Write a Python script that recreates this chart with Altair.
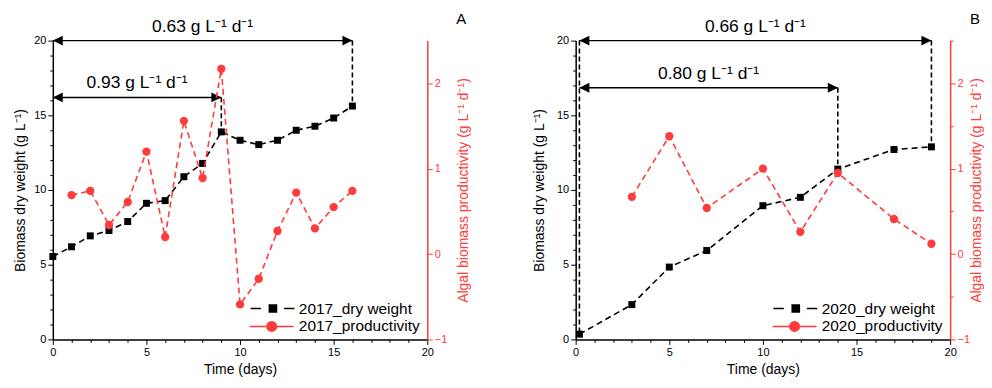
import altair as alt
import pandas as pd

RED = "#ff3b3b"
FONT = "Liberation Sans"

# ---------------- Panel A (2017) ----------------
days_a = list(range(0, 17))
dw_a = [5.55, 6.2, 6.93, 7.29, 7.89, 9.11, 9.29, 10.89, 11.78, 13.89, 13.33, 13.04, 13.33, 14.0, 14.27, 14.82, 15.62]
prod_days_a = list(range(1, 17))
prod_a = [0.69, 0.74, 0.34, 0.61, 1.2, 0.2, 1.56, 0.89, 2.17, -0.59, -0.29, 0.27, 0.72, 0.3, 0.55, 0.74]

arrow_level_a = [20, 16.2]
arrow_start_a = [0, 0]
arrow_end_a = [16, 9]
arrow_text_a = ["0.63 g L\u207b\u00b9 d\u207b\u00b9", "0.93 g L\u207b\u00b9 d\u207b\u00b9"]
drop_x_a = [16, 9]
drop_top_a = [20, 16.2]
drop_bottom_a = [15.62, 13.89]

# ---------------- Panel B (2020) ----------------
days_b = [0.2, 3, 5, 7, 10, 12, 14, 17, 19]
dw_b = [0.35, 2.33, 4.84, 5.95, 8.95, 9.51, 11.4, 12.71, 12.89]
prod_days_b = [3, 5, 7, 10, 12, 14, 17, 19]
prod_b = [0.67, 1.38, 0.54, 1.0, 0.26, 0.95, 0.41, 0.12]

arrow_level_b = [20, 16.85]
arrow_start_b = [0.2, 0.2]
arrow_end_b = [19, 14]
arrow_text_b = ["0.66 g L\u207b\u00b9 d\u207b\u00b9", "0.80  g L\u207b\u00b9 d\u207b\u00b9"]
drop_x_b = [19, 14, 0.2]
drop_top_b = [20, 16.85, 20]
drop_bottom_b = [12.89, 11.4, 0.35]

x_ticks = list(range(0, 21))
y_ticks = list(range(0, 21))

W, H = 376, 300

TRI_LEFT = "M0,0L2,-1L2,1Z"
TRI_RIGHT = "M0,0L-2,-1L-2,1Z"
SYM_SQUARE = "M-2.8,0H-1.5M-0.45,-0.45H0.45V0.45H-0.45ZM1.4,0H2.7"
SYM_CIRCLE = "M-2.9,0H-0.75M0.45,0A0.6,0.6 0 1,1 -0.75,0A0.6,0.6 0 1,1 0.45,0ZM0.45,0H2.6"


def panel(tag, tag_x, year, days, dw, pdays, prod, lvl, x0, x1, texts, dx, dtop, dbot,
          right_vals, left_tp, right_tp):
    x_axis = alt.Axis(
        values=x_ticks,
        labelExpr="datum.value % 5 === 0 ? datum.label : ''",
        labelOverlap=False, labelFlush=False,
        title="Time (days)",
        grid=False,
        tickSize={"condition": {"test": "datum.value % 5 === 0", "value": 5}, "value": 3},
        domainColor="black", tickColor="black", labelColor="black",
        labelFontSize=11, titleFontSize=14, titleFontWeight="normal", titlePadding=5,
        domainWidth=1.5,
    )
    y_axis = alt.Axis(
        values=y_ticks,
        labelExpr="datum.value % 5 === 0 ? datum.label : ''",
        labelOverlap=False, labelFlush=False,
        title="Biomass dry weight (g L\u207b\u00b9)",
        grid=False,
        tickSize={"condition": {"test": "datum.value % 5 === 0", "value": 5}, "value": 3},
        domainColor="black", tickColor="black", labelColor="black",
        labelFontSize=11, titleFontSize=14, titleFontWeight="normal", titlePadding=left_tp,
        domainWidth=1.5,
    )
    xs = alt.Scale(domain=[0, 20], nice=False, zero=False)
    ys = alt.Scale(domain=[0, 20], nice=False, zero=False)
    X = lambda f: alt.X(f, type="quantitative", scale=xs, axis=x_axis)
    Y = lambda f: alt.Y(f, type="quantitative", scale=ys, axis=y_axis)

    dwdf = pd.DataFrame({"day": days, "v": dw})
    dw_line = alt.Chart(dwdf).mark_line(color="black", strokeDash=[6, 4], strokeWidth=1.6).encode(x=X("day"), y=Y("v"))
    dw_pts = alt.Chart(dwdf).mark_point(shape="square", filled=True, size=49, color="black", opacity=1).encode(x=X("day"), y=Y("v"))

    adf = pd.DataFrame({"lvl": lvl, "x0": x0, "x1": x1, "txt": texts})
    adf["mid"] = (adf["x0"] + adf["x1"]) / 2
    arr = alt.Chart(adf).mark_rule(color="black", strokeWidth=1.5).encode(x=X("x0"), x2="x1", y=Y("lvl"))
    head_l = alt.Chart(adf).mark_point(shape=TRI_LEFT, filled=True, size=100, color="black", opacity=1).encode(x=X("x0"), y=Y("lvl"))
    head_r = alt.Chart(adf).mark_point(shape=TRI_RIGHT, filled=True, size=100, color="black", opacity=1).encode(x=X("x1"), y=Y("lvl"))
    txt = alt.Chart(adf).mark_text(fontSize=17.5, dy=-9, baseline="alphabetic", align="center", color="black").encode(
        x=X("mid"), y=Y("lvl"), text="txt:N")

    ddf = pd.DataFrame({"x": dx, "top": dtop, "bot": dbot})
    drops = alt.Chart(ddf).mark_rule(color="black", strokeDash=[5, 3], strokeWidth=1.6).encode(x=X("x"), y=Y("top"), y2="bot")

    label = alt.Chart(pd.DataFrame({"t": [tag]})).mark_text(fontSize=15, align="center", baseline="middle", color="black").encode(
        x=alt.value(tag_x), y=alt.value(-22), text="t:N")

    names = [f"{year}_dry weight", f"{year}_productivity"]
    leg = alt.Legend(
        title=None, orient="none", legendX=197, legendY=260, labelFontSize=15.5, labelColor="black",
        symbolSize=256, symbolStrokeWidth=1.5, symbolOffset=15, labelOffset=17, rowPadding=0, padding=0,
        symbolOpacity=1,
    )
    ldf = pd.DataFrame({"series": names})
    legend_layer = alt.Chart(ldf).mark_point(filled=True, clip=True, strokeWidth=1.5, size=256).encode(
        x=alt.value(-200), y=alt.value(-200),
        fill=alt.Fill("series:N", scale=alt.Scale(domain=names, range=["black", RED]), legend=leg),
        stroke=alt.Stroke("series:N", scale=alt.Scale(domain=names, range=["black", RED]), legend=leg),
        shape=alt.Shape("series:N", scale=alt.Scale(domain=names, range=[SYM_SQUARE, SYM_CIRCLE]), legend=leg),
    )

    left = alt.layer(dw_line, drops, arr, head_l, head_r, dw_pts, txt, label, legend_layer)

    r_axis = alt.Axis(
        orient="right", values=right_vals,
        labelExpr="datum.value % 1 === 0 ? format(datum.value, 'd') : ''",
        labelOverlap=False, labelFlush=False,
        title="Algal biomass productivity (g L\u207b\u00b9 d\u207b\u00b9)",
        titleAngle=270, titleBaseline="top", grid=False,
        tickSize={"condition": {"test": "datum.value % 1 === 0", "value": 5}, "value": 3},
        domainColor=RED, tickColor=RED, labelColor=RED, titleColor=RED,
        labelFontSize=11, titleFontSize=14, titleFontWeight="normal", titlePadding=right_tp,
        domainWidth=1.5,
    )
    rs = alt.Scale(domain=[-1, 2.5], nice=False, zero=False)
    pdf = pd.DataFrame({"day": pdays, "p": prod})
    p_line = alt.Chart(pdf).mark_line(color=RED, strokeDash=[6, 4], strokeWidth=1.6).encode(
        x=X("day"), y=alt.Y("p:Q", scale=rs, axis=r_axis))
    p_pts = alt.Chart(pdf).mark_point(shape="circle", filled=True, size=70, color=RED, opacity=1).encode(
        x=X("day"), y=alt.Y("p:Q", scale=rs, axis=r_axis))
    right = alt.layer(p_line, p_pts)

    return alt.layer(left, right).resolve_scale(y="independent").properties(width=W, height=H)


pa = panel("A", W + 34, 2017, days_a, dw_a, prod_days_a, prod_a, arrow_level_a, arrow_start_a, arrow_end_a,
           arrow_text_a, drop_x_a, drop_top_a, drop_bottom_a, [-1, 0, 1, 2], 6, 10)
pb = panel("B", W + 25, 2020, days_b, dw_b, prod_days_b, prod_b, arrow_level_b, arrow_start_b, arrow_end_b,
           arrow_text_b, drop_x_b, drop_top_b, drop_bottom_b, [-1, -0.5, 0, 0.5, 1, 1.5, 2, 2.5], 10, 0)

chart = alt.hconcat(pa, pb, spacing=61).resolve_scale(
    x="independent", y="independent", fill="independent", stroke="independent", shape="independent"
).resolve_legend(fill="independent", stroke="independent", shape="independent").properties(
    padding={"left": 5, "top": 3, "right": 0, "bottom": 0}
).configure(
    font=FONT
).configure_view(stroke=None)

chart.save("out.html", embed_options={"renderer": "svg", "actions": False})
